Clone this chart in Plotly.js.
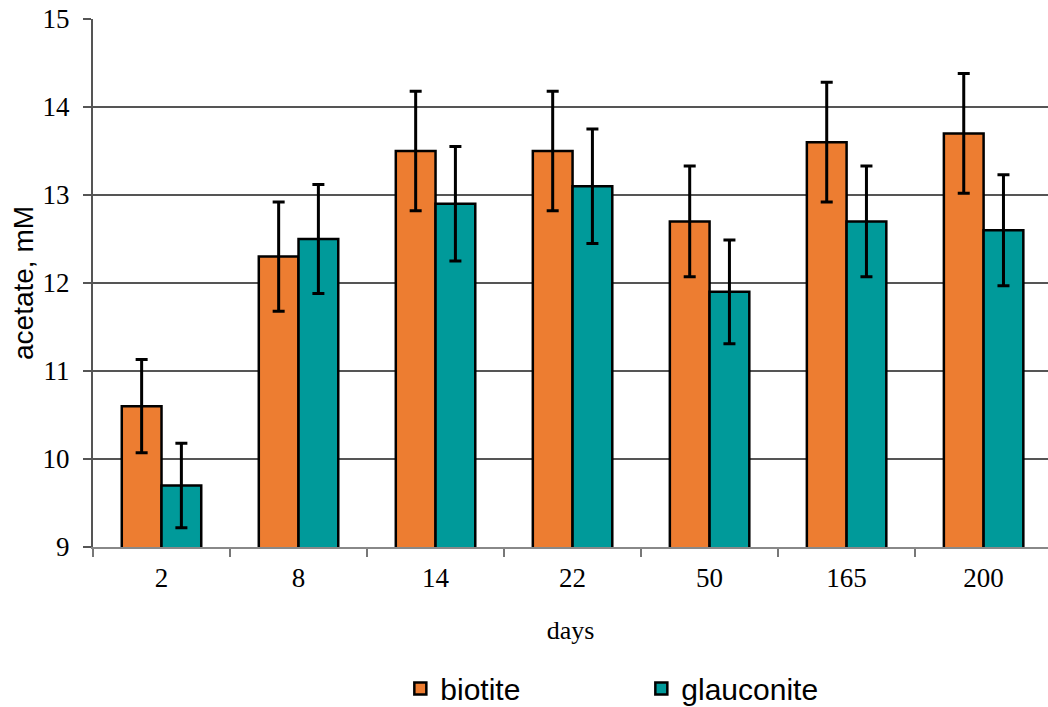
<!DOCTYPE html>
<html>
<head>
<meta charset="utf-8">
<script src="https://cdn.plot.ly/plotly-3.0.1.min.js"></script>
<style>html,body{margin:0;padding:0;background:#fff}#chart{width:1048px;height:707px}</style>
</head>
<body>
<div id="chart"></div>
<script>
const days = ['2', '8', '14', '22', '50', '165', '200'];
const biotite = [10.6, 12.3, 13.5, 13.5, 12.7, 13.6, 13.7];
const biotiteErr = [0.53, 0.62, 0.68, 0.68, 0.63, 0.68, 0.68];
const glauconite = [9.7, 12.5, 12.9, 13.1, 11.9, 12.7, 12.6];
const glauconiteErr = [0.48, 0.62, 0.65, 0.65, 0.59, 0.63, 0.63];
const yTicks = [9, 10, 11, 12, 13, 14, 15];

const errStyle = {type: 'data', visible: true, color: '#000', thickness: 3, width: 6};

const traces = [
  {type: 'bar', name: 'biotite', x: days, y: biotite,
   error_y: Object.assign({array: biotiteErr}, errStyle),
   marker: {color: '#ED7D31', line: {color: '#000', width: 2.5}}},
  {type: 'bar', name: 'glauconite', x: days, y: glauconite,
   error_y: Object.assign({array: glauconiteErr}, errStyle),
   marker: {color: '#009A9A', line: {color: '#000', width: 2.5}}}
];

const layout = {
  width: 1048, height: 707,
  margin: {l: 93, r: 0, t: 19, b: 160},
  paper_bgcolor: '#fff', plot_bgcolor: '#fff',
  barmode: 'group', bargap: 0.42, bargroupgap: 0,
  showlegend: true,
  legend: {orientation: 'h', x: 0.382, xref: 'container', xanchor: 'left',
           y: 0.026, yref: 'container', yanchor: 'middle',
           font: {family: 'Liberation Sans, Arial, sans-serif', size: 30, color: '#000'},
           entrywidth: 196, traceorder: 'normal'},
  xaxis: {type: 'category', range: [-0.5, 6.47], automargin: false,
          tickfont: {family: 'Liberation Serif, Times New Roman, serif', size: 27, color: '#000'},
          ticks: 'outside', tickson: 'boundaries', ticklen: 8, tickcolor: '#777', tickwidth: 2,
          ticklabelstandoff: 6,
          showline: true, linecolor: '#888', linewidth: 2,
          showgrid: false, zeroline: false,
          title: {text: 'days', standoff: 28,
                  font: {family: 'Liberation Serif, Times New Roman, serif', size: 26, color: '#000'}}},
  yaxis: {range: [9, 15], tickvals: yTicks, ticktext: yTicks.map(String), automargin: false,
          tickfont: {family: 'Liberation Serif, Times New Roman, serif', size: 27, color: '#000'},
          ticks: 'outside', ticklen: 8, tickcolor: '#555', tickwidth: 2, ticklabelstandoff: 8,
          showline: true, linecolor: '#555', linewidth: 2,
          showgrid: true, gridcolor: '#555', gridwidth: 1.2, zeroline: false,
          title: {text: 'acetate, mM', standoff: 1,
                  font: {family: 'Liberation Sans, Arial, sans-serif', size: 28, color: '#000'}}},
  shapes: []
};

Plotly.newPlot('chart', traces, layout, {staticPlot: true, displayModeBar: false});
</script>
</body>
</html>
